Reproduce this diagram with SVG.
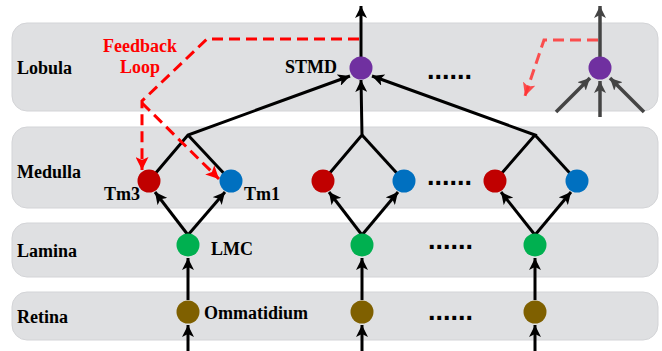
<svg xmlns="http://www.w3.org/2000/svg" width="662" height="351" viewBox="0 0 662 351">
<style>
.band{fill:#dfe0e2;stroke:#d3d4d7;stroke-width:1}
.lbl{font-family:"Liberation Serif",serif;font-weight:bold;font-size:18px;fill:#000}
.fb{font-family:"Liberation Serif",serif;font-weight:bold;font-size:18px;fill:#ff0000}
.dots{font-family:"Liberation Sans",sans-serif;font-weight:bold;font-size:27px;fill:#000}
.k{stroke:#000;stroke-width:3;fill:none}
.ka{stroke:#000;stroke-width:3;fill:none;marker-end:url(#ah)}
.ga{stroke:#444;stroke-width:3.5;fill:none;marker-end:url(#ahg)}
.rda{stroke:#ff0000;stroke-width:3;fill:none;stroke-dasharray:11 6;marker-end:url(#ahr)}
.rd2{stroke:#ff3333;stroke-opacity:0.85;stroke-width:3;fill:none;stroke-dasharray:11 6;marker-end:url(#ahr2)}
</style>
<defs>
<marker id="ah" markerUnits="userSpaceOnUse" markerWidth="13" markerHeight="12" refX="12" refY="6" orient="auto" viewBox="0 0 13 12"><path d="M0,0 L12,6 L0,12 L3,6 z" fill="#000"/></marker>
<marker id="ahg" markerUnits="userSpaceOnUse" markerWidth="13" markerHeight="12" refX="12" refY="6" orient="auto" viewBox="0 0 13 12"><path d="M0,0 L12,6 L0,12 L3,6 z" fill="#444"/></marker>
<marker id="ahr" markerUnits="userSpaceOnUse" markerWidth="14" markerHeight="13" refX="13" refY="6.5" orient="auto" viewBox="0 0 14 13"><path d="M0,0 L13,6.5 L0,13 L3,6.5 z" fill="#ff0000"/></marker>
<marker id="ahr2" markerUnits="userSpaceOnUse" markerWidth="14" markerHeight="13" refX="13" refY="6.5" orient="auto" viewBox="0 0 14 13"><path d="M0,0 L13,6.5 L0,13 L3,6.5 z" fill="#ff3333" fill-opacity="0.85"/></marker>
</defs>

<g id="bands">
<rect id="lobula-band" class="band" x="12" y="23" width="646" height="88" rx="15"/>
<rect id="medulla-band" class="band" x="12" y="127" width="646" height="81" rx="15"/>
<rect id="lamina-band" class="band" x="12" y="223" width="646" height="54" rx="15"/>
<rect id="retina-band" class="band" x="12" y="292" width="646" height="48" rx="15"/>
<text class="lbl" x="17" y="74">Lobula</text>
<text class="lbl" x="17" y="178">Medulla</text>
<text class="lbl" x="17" y="257">Lamina</text>
<text class="lbl" x="17" y="323">Retina</text>
</g>

<g id="connectors">
<line class="ka" x1="361" y1="57" x2="361" y2="6"/>
<line class="ga" x1="600" y1="57" x2="600" y2="6"/>
<polyline class="ka" points="149,181 188,135 350,76"/>
<line class="k" x1="188" y1="135" x2="231" y2="181"/>
<polyline class="ka" points="323,181 362,135 361,80"/>
<line class="k" x1="362" y1="135" x2="404" y2="181"/>
<polyline class="ka" points="495,181 535,135 372,76"/>
<line class="k" x1="535" y1="135" x2="577" y2="181"/>
<line class="ga" x1="556" y1="112" x2="590" y2="78"/>
<line class="ga" x1="600" y1="117" x2="600" y2="81"/>
<line class="ga" x1="644" y1="112" x2="610" y2="78"/>
<line class="ka" x1="188" y1="235" x2="155" y2="192"/>
<line class="ka" x1="188" y1="235" x2="225" y2="192"/>
<line class="ka" x1="362" y1="235" x2="329" y2="192"/>
<line class="ka" x1="362" y1="235" x2="398" y2="192"/>
<line class="ka" x1="535" y1="235" x2="501" y2="192"/>
<line class="ka" x1="535" y1="235" x2="571" y2="192"/>
<line class="ka" x1="188" y1="300" x2="188" y2="258"/>
<line class="ka" x1="362" y1="300" x2="362" y2="258"/>
<line class="ka" x1="535" y1="300" x2="535" y2="258"/>
<line class="ka" x1="188" y1="351" x2="188" y2="325"/>
<line class="ka" x1="362" y1="351" x2="362" y2="325"/>
<line class="ka" x1="535" y1="351" x2="535" y2="325"/>
<polyline class="rda" points="359,39 207,39 142,101 142,170"/>
<line class="rda" x1="142" y1="103" x2="219" y2="179"/>
<polyline class="rd2" points="598,40 544,40 525,96"/>
</g>

<g id="feedback-label">
<text class="fb" x="140" y="52" text-anchor="middle">Feedback</text>
<text class="fb" x="140" y="73" text-anchor="middle">Loop</text>
</g>

<g id="stmd"><circle cx="361" cy="68" r="11.5" fill="#7030a0"/><text class="lbl" x="285" y="73">STMD</text></g>
<g id="stmd-n"><circle cx="600" cy="68" r="11.5" fill="#7030a0"/></g>

<g id="tm3-1"><circle cx="149" cy="181" r="11.5" fill="#c00000"/><text class="lbl" x="104" y="200">Tm3</text></g>
<g id="tm1-1"><circle cx="231" cy="181" r="11.5" fill="#0070c0"/><text class="lbl" x="244" y="200">Tm1</text></g>
<g id="tm3-2"><circle cx="323" cy="181" r="11.5" fill="#c00000"/></g>
<g id="tm1-2"><circle cx="404" cy="181" r="11.5" fill="#0070c0"/></g>
<g id="tm3-n"><circle cx="495" cy="181" r="11.5" fill="#c00000"/></g>
<g id="tm1-n"><circle cx="577" cy="181" r="11.5" fill="#0070c0"/></g>

<g id="lmc-1"><circle cx="188" cy="245" r="11.5" fill="#00b050"/><text class="lbl" x="211" y="255">LMC</text></g>
<g id="lmc-2"><circle cx="362" cy="245" r="11.5" fill="#00b050"/></g>
<g id="lmc-n"><circle cx="535" cy="245" r="11.5" fill="#00b050"/></g>

<g id="omm-1"><circle cx="188" cy="312" r="11.5" fill="#7f6000"/><text class="lbl" x="204" y="319">Ommatidium</text></g>
<g id="omm-2"><circle cx="362" cy="312" r="11.5" fill="#7f6000"/></g>
<g id="omm-n"><circle cx="535" cy="312" r="11.5" fill="#7f6000"/></g>

<g id="ellipses">
<text class="dots" x="427" y="79">......</text>
<text class="dots" x="427" y="185">......</text>
<text class="dots" x="428" y="249">......</text>
<text class="dots" x="428" y="320">......</text>
</g>
</svg>
